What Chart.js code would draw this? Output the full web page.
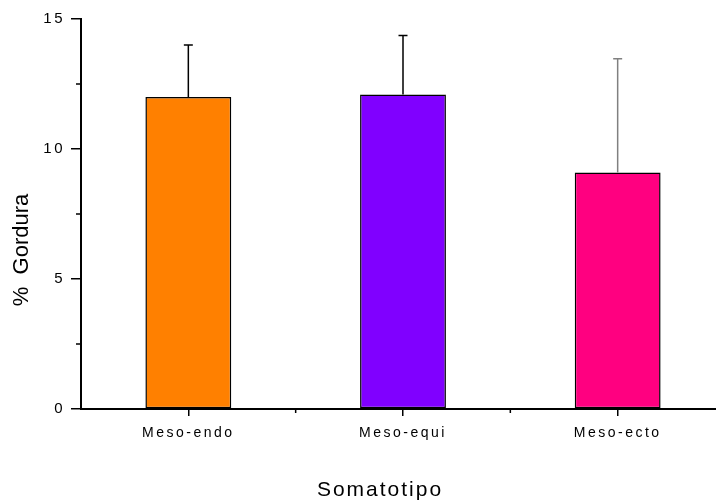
<!DOCTYPE html>
<html>
<head>
<meta charset="utf-8">
<script src="https://cdn.jsdelivr.net/npm/chart.js@4.4.1/dist/chart.umd.min.js"></script>
<style>
    html, body { margin: 0; padding: 0; background: #fff; overflow: hidden; }
    #wrap { position: relative; width: 725px; height: 504px; }
</style>
</head>
<body>
<div id="wrap"><canvas id="fatChart"></canvas></div>
<script>
// Datos del gráfico
const categories = ['Meso-endo', 'Meso-equi', 'Meso-ecto'];
const meanValues = [12.0, 12.1, 9.1];
const sdValues = [2.0, 2.27, 4.37];
const barColors = ['#FF8000', '#8000FF', '#FF0080'];
const errorColors = ['#000000', '#000000', '#808080'];
const yTitle = '%  Gordura';
const xTitle = 'Somatotipo';

const FONT = "'Liberation Sans', Arial, sans-serif";

// Barras de error (solo hacia arriba) y marcas menores
const extrasPlugin = {
    id: 'extras',
    beforeDraw(chart) {
        chart.ctx.letterSpacing = '2.5px';
    },
    afterDatasetsDraw(chart) {
        const ctx = chart.ctx;
        const y = chart.scales.y;
        const meta = chart.getDatasetMeta(0);
        ctx.save();
        meta.data.forEach((bar, i) => {
            const top = y.getPixelForValue(meanValues[i] + sdValues[i]);
            ctx.strokeStyle = errorColors[i];
            ctx.lineWidth = 1.5;
            ctx.beginPath();
            ctx.moveTo(bar.x, bar.y);
            ctx.lineTo(bar.x, top);
            ctx.moveTo(bar.x - 4.5, top);
            ctx.lineTo(bar.x + 4.5, top);
            ctx.stroke();
        });
        ctx.restore();
    },
    afterDraw(chart) {
        const ctx = chart.ctx;
        const x = chart.scales.x;
        const y = chart.scales.y;
        const area = chart.chartArea;
        ctx.save();
        ctx.strokeStyle = '#000';
        ctx.lineWidth = 1.5;
        ctx.beginPath();
        // marcas menores en Y
        for (let v = 2.5; v < 15; v += 5) {
            const py = y.getPixelForValue(v);
            ctx.moveTo(area.left - 5, py);
            ctx.lineTo(area.left, py);
        }
        // marcas menores en X (entre categorías)
        for (let i = 0; i < categories.length - 1; i++) {
            const px = (x.getPixelForValue(i) + x.getPixelForValue(i + 1)) / 2;
            ctx.moveTo(px, area.bottom);
            ctx.lineTo(px, area.bottom + 4);
        }
        ctx.stroke();

        // títulos de ejes
        ctx.fillStyle = '#000';
        ctx.textAlign = 'center';
        ctx.textBaseline = 'middle';
        ctx.letterSpacing = '2px';
        ctx.font = '21px ' + FONT;
        ctx.fillText(xTitle, 380, 490);
        ctx.letterSpacing = '0px';
        ctx.font = '22px ' + FONT;
        ctx.translate(22, 250);
        ctx.rotate(-Math.PI / 2);
        ctx.fillText(yTitle, 0, 0);
        ctx.restore();
    }
};

const chart = new Chart(document.getElementById('fatChart'), {
    type: 'bar',
    data: {
        labels: categories,
        datasets: [{
            data: meanValues,
            backgroundColor: barColors,
            borderColor: '#000',
            borderWidth: 1.5,
            borderSkipped: false,
            barPercentage: 0.4,
            categoryPercentage: 1.0
        }]
    },
    options: {
        responsive: true,
        maintainAspectRatio: false,
        animation: false,
        layout: { padding: { top: 19, right: 0, bottom: 0, left: 0 } },
        plugins: {
            legend: { display: false },
            tooltip: { enabled: false }
        },
        scales: {
            x: {
                offset: true,
                grid: { display: true, drawOnChartArea: false, offset: false, tickLength: 7, color: '#000', lineWidth: 1.5 },
                border: { display: true, color: '#000', width: 2 },
                ticks: { color: '#000', padding: 9, font: { size: 14, family: FONT } },
                afterFit(scale) { scale.height = 95; }
            },
            y: {
                min: 0,
                max: 15,
                grid: { display: true, drawOnChartArea: false, tickLength: 10, color: '#000', lineWidth: 1.5 },
                border: { display: true, color: '#000', width: 2 },
                ticks: { stepSize: 5, color: '#000', padding: 6, font: { size: 15, family: FONT } },
                afterFit(scale) { scale.width = 81; }
            }
        }
    },
    plugins: [extrasPlugin]
});
</script>
</body>
</html>
